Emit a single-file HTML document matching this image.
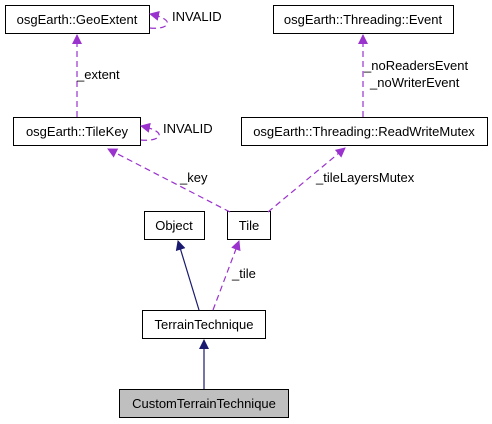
<!DOCTYPE html>
<html><head><style>body{margin:0;background:#fff}svg{display:block}</style></head><body>
<svg width="492" height="424" xmlns="http://www.w3.org/2000/svg" font-family="Liberation Sans, sans-serif" font-size="13">
<defs>
<marker id="p" markerWidth="10" markerHeight="10" refX="9" refY="5" orient="auto" markerUnits="userSpaceOnUse"><path d="M0,0 L10,5 L0,10z" fill="#9a32cd"/></marker>
<marker id="n" markerWidth="10" markerHeight="10" refX="9" refY="5" orient="auto" markerUnits="userSpaceOnUse"><path d="M0,0 L10,5 L0,10z" fill="#191970"/></marker>
</defs>
<g fill="#fff" stroke="#000" stroke-width="1">
<rect x="5.5" y="5.5" width="144" height="28"/>
<rect x="13.5" y="117.5" width="127" height="28"/>
<rect x="273.5" y="5.5" width="180" height="28"/>
<rect x="241.5" y="117.5" width="246" height="28"/>
<rect x="144.5" y="211.5" width="60" height="28"/>
<rect x="227.5" y="211.5" width="43" height="28"/>
<rect x="142.5" y="310.5" width="123" height="28"/>
<rect x="119.5" y="389.5" width="169" height="28" fill="#bfbfbf"/>
</g>
<g fill="none" stroke="#9a32cd" stroke-dasharray="6,4" stroke-width="1.2">
<path d="M77,117 V35" marker-end="url(#p)"/>
<path d="M150,28 C168,30 178,20 150,14" marker-end="url(#p)"/>
<path d="M141,140 C160,142 170,132 141,126" marker-end="url(#p)"/>
<path d="M363,117 V35" marker-end="url(#p)"/>
<path d="M230,212 L108,149" marker-end="url(#p)"/>
<path d="M268,212 L345,148" marker-end="url(#p)"/>
<path d="M213,310 L239,241" marker-end="url(#p)"/>
</g>
<g fill="none" stroke="#191970" stroke-width="1.2">
<path d="M199,310 L178,241" marker-end="url(#n)"/>
<path d="M204,389 V340" marker-end="url(#n)"/>
</g>
<g fill="#000" text-anchor="middle">
<text x="77" y="24">osgEarth::GeoExtent</text>
<text x="77" y="136">osgEarth::TileKey</text>
<text x="363" y="24">osgEarth::Threading::Event</text>
<text x="364" y="136">osgEarth::Threading::ReadWriteMutex</text>
<text x="174" y="230">Object</text>
<text x="249" y="230">Tile</text>
<text x="204" y="329">TerrainTechnique</text>
<text x="204" y="408">CustomTerrainTechnique</text>
</g>
<g fill="#000">
<text x="172" y="21">INVALID</text>
<text x="163" y="133">INVALID</text>
<text x="77" y="79">_extent</text>
<text x="364" y="70">_noReadersEvent</text>
<text x="370" y="87">_noWriterEvent</text>
<text x="180" y="182">_key</text>
<text x="316" y="182">_tileLayersMutex</text>
<text x="232" y="278">_tile</text>
</g>
</svg>
</body></html>
